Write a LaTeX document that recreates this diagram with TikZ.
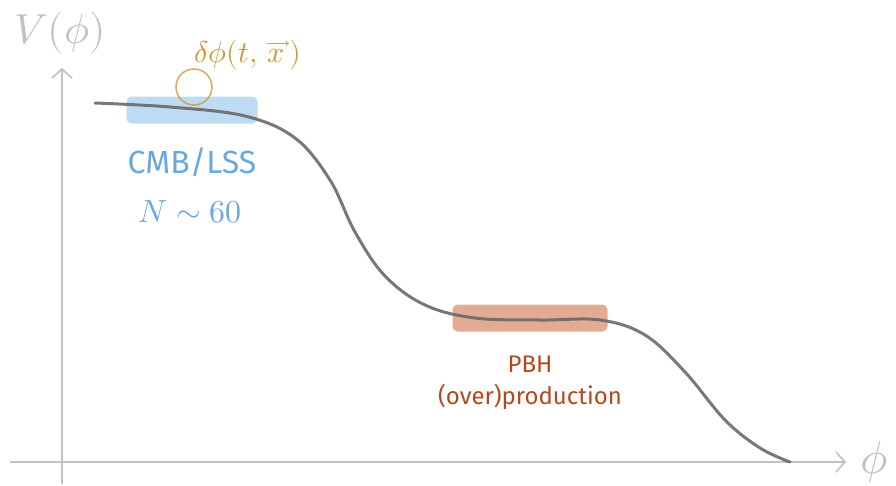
\documentclass[tikz,border=0pt]{standalone}
\usepackage{amsmath}
\usepackage{unicode-math}
\setmathfont{Latin Modern Math}
\newfontfamily\handfont{Fira Sans}
\usetikzlibrary{arrows.meta, positioning}
\definecolor{axisgray}{RGB}{196,192,187}
\definecolor{curvegray}{RGB}{105,105,105}
\definecolor{cmbblue}{RGB}{190,220,241}
\definecolor{cmbtext}{RGB}{105,168,222}
\definecolor{pbhfill}{RGB}{226,172,148}
\definecolor{pbhtext}{RGB}{178,72,30}
\definecolor{flucgold}{RGB}{205,150,55}

\begin{document}
\begin{tikzpicture}[x=1pt, y=-1pt,
  axis/.style={draw=axisgray, line width=2pt, -{Straight Barb[length=9pt, width=20pt, line width=1.6pt]}},
  band/.style={rounded corners=5pt, inner sep=0pt},
  lbl/.style={inner sep=0pt}]
  \useasboundingbox (0,0) rectangle (896,485);

  % highlighted regions
  \node[band, fill=cmbblue, minimum width=131pt, minimum height=27pt] (cmb) at (192,110) {};
  \node[band, fill=pbhfill, minimum width=155pt, minimum height=27pt] (pbh) at (530,318) {};

  % axes
  \coordinate (o) at (62,462);
  \coordinate (ytop) at (62,68);
  \coordinate (ybot) at (62,484);
  \coordinate (xleft) at (10,462);
  \coordinate (xright) at (846,462);
  \draw[axis] (ybot) -- (ytop);
  \draw[axis] (xleft) -- (xright);

  % potential
  \draw[curvegray, line width=3pt, line cap=round, opacity=0.9] plot[smooth, tension=0.6] coordinates {
    (95,103) (170,107) (245,116) (295,138) (330,180) (355,232)
    (385,276) (425,305) (475,318) (540,320) (600,320) (645,335)
    (685,372) (725,420) (760,448) (790,462)};

  % fluctuation
  \node[draw=flucgold, line width=1.5pt, circle, minimum size=36pt, inner sep=0pt, opacity=0.8] (ball) at (194,87) {};
  \node[lbl, text=flucgold, font=\fontsize{30}{30}\selectfont] (dphi) at (248,55) {$\delta\phi(t,\,\overrightarrow{x\,})$};

  % axis labels
  \node[lbl, text=axisgray, font=\fontsize{42}{42}\selectfont] (vlab) at (60,33) {$V(\phi)$};
  \node[lbl, text=axisgray, font=\fontsize{46}{46}\selectfont, anchor=west] (philab) at (860,462) {$\phi$};

  % labels of regions
  \node[lbl, text=cmbtext, font=\handfont\fontsize{32}{32}\selectfont] (cmblab) at (192,162) {CMB/LSS};
  \node[lbl, text=cmbtext, font=\fontsize{32}{32}\selectfont] (nlab) at (190,212) {$N\sim 60$};
  \node[lbl, text=pbhtext, font=\handfont\fontsize{24}{24}\selectfont] (pbhlab) at (530,364) {PBH};
  \node[lbl, text=pbhtext, font=\handfont\fontsize{24}{24}\selectfont] (prodlab) [below=12pt of pbhlab] {(over)production};
\end{tikzpicture}
\end{document}
